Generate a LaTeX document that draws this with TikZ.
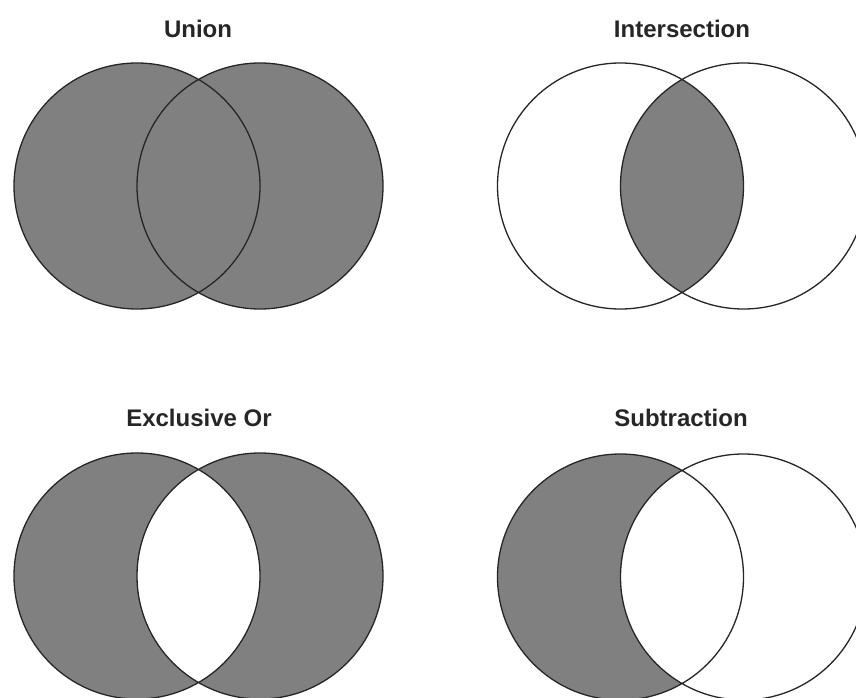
\documentclass[tikz,border=0pt]{standalone}
\usepackage{fontspec}
\setmainfont{Liberation Sans}
\begin{document}
\begin{tikzpicture}[x=1pt,y=-1pt,
  ring/.style={draw=black!85, line width=1.3pt},
  shade/.style={fill=black!50},
  title/.style={font=\fontsize{24}{28}\selectfont\bfseries, text=black!85, inner sep=0pt}]
\useasboundingbox[fill=white] (0,0) rectangle (856,698);
\def\rr{123pt}
% Titles
\node[title] (tunion) at (198,29) {Union};
\node[title] (tinter) at (682,29) {Intersection};
\node[title] (txor) at (199,418) {Exclusive Or};
\node[title] (tsub) at (681,418) {Subtraction};
% Union
\fill[shade] (137,186) circle (\rr) (260,186) circle (\rr);
\draw[ring] (137,186) circle (\rr) (260,186) circle (\rr);
% Intersection
\begin{scope}
  \clip (620.5,186) circle (\rr);
  \fill[shade] (743.5,186) circle (\rr);
\end{scope}
\draw[ring] (620.5,186) circle (\rr) (743.5,186) circle (\rr);
% Exclusive Or
\fill[shade, even odd rule] (137,576) circle (\rr) (260,576) circle (\rr);
\draw[ring] (137,576) circle (\rr) (260,576) circle (\rr);
% Subtraction
\begin{scope}
  \clip (620.5,577) circle (\rr);
  \fill[shade, even odd rule] (620.5,577) circle (\rr) (743.5,577) circle (\rr);
\end{scope}
\draw[ring] (620.5,577) circle (\rr) (743.5,577) circle (\rr);
\end{tikzpicture}
\end{document}
